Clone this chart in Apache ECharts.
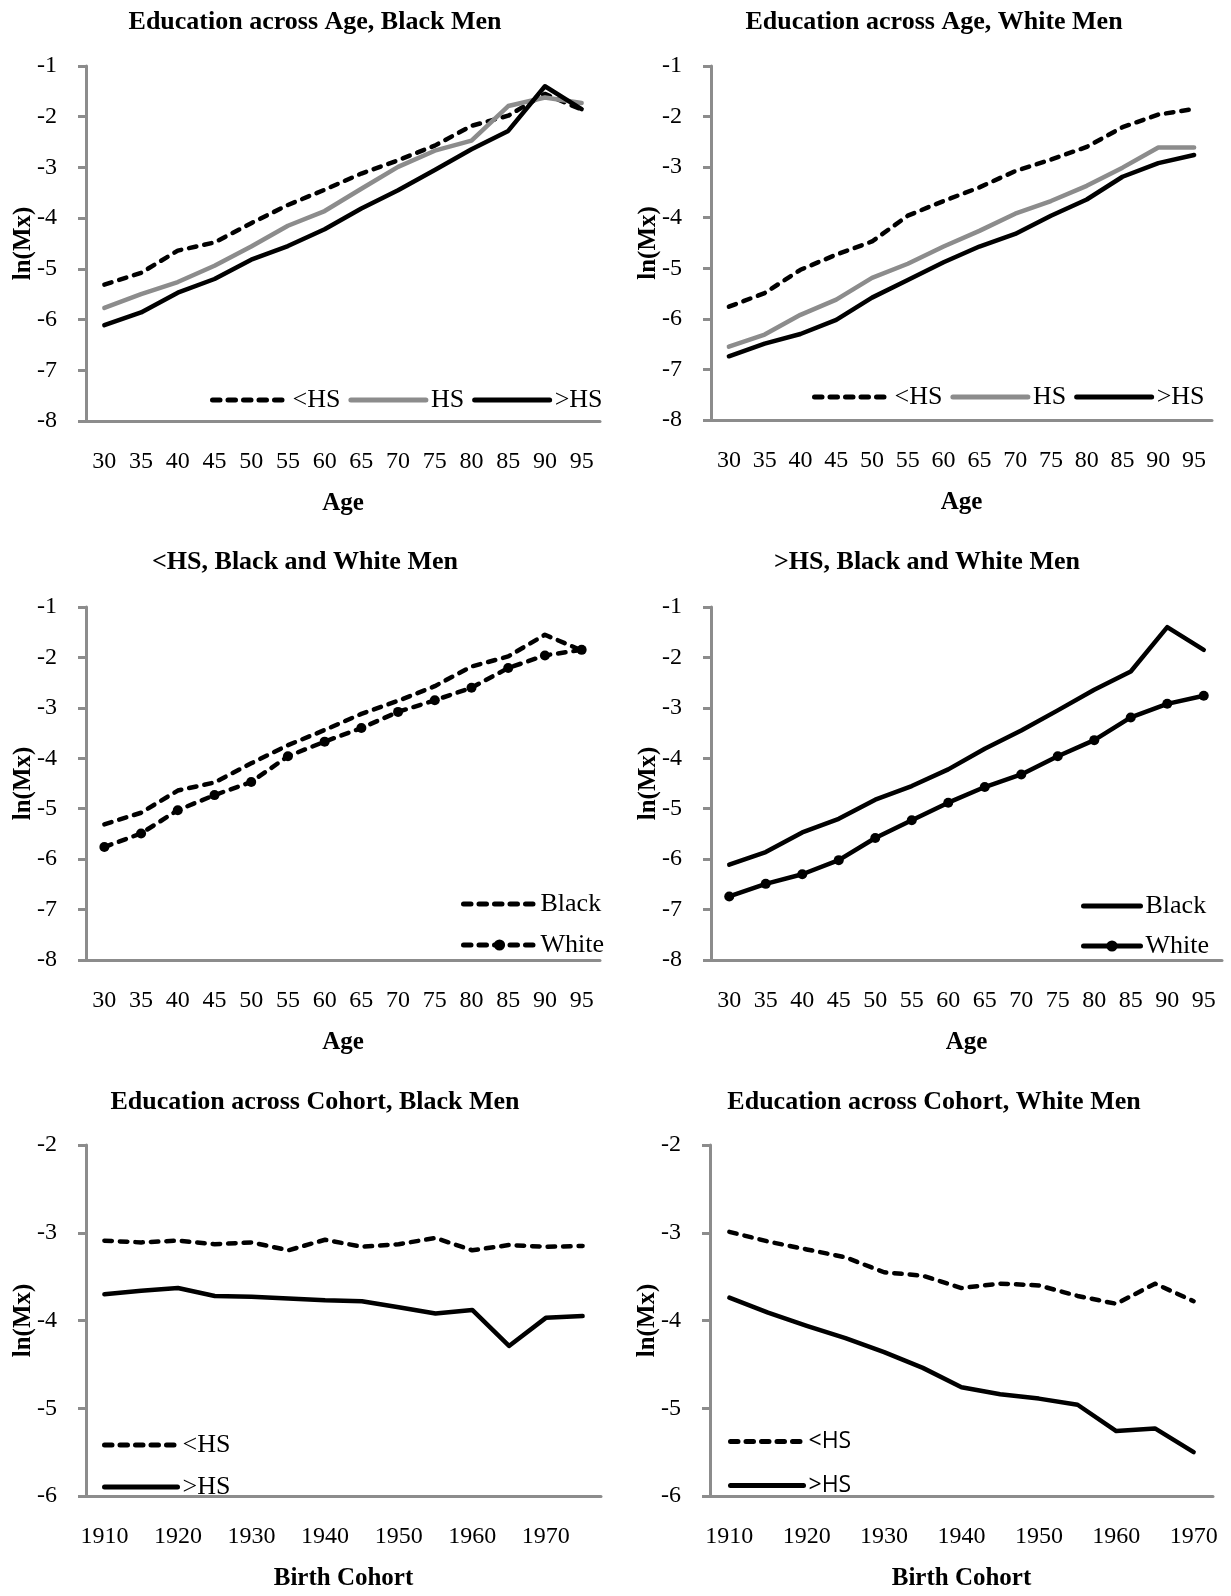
<!DOCTYPE html>
<html>
<head>
<meta charset="utf-8">
<script src="https://cdn.jsdelivr.net/npm/echarts@6/dist/echarts.min.js"></script>
<style>
body { margin: 0; background: #fff; }
.panel { position: absolute; }
</style>
</head>
<body>
<div id="p1" class="panel" style="left:0;top:0;width:615px;height:530px"></div>
<div id="p2" class="panel" style="left:615px;top:0;width:616px;height:530px"></div>
<div id="p3" class="panel" style="left:0;top:530px;width:615px;height:530px"></div>
<div id="p4" class="panel" style="left:615px;top:530px;width:616px;height:530px"></div>
<div id="p5" class="panel" style="left:0;top:1060px;width:615px;height:536px"></div>
<div id="p6" class="panel" style="left:615px;top:1060px;width:616px;height:536px"></div>
<script>
let ages = ['30', '35', '40', '45', '50', '55', '60', '65', '70', '75', '80', '85', '90', '95'];
let cohortsBlack = ['1910', '1915', '1920', '1925', '1930', '1935', '1940', '1945', '1950', '1955', '1960', '1965', '1970', '1975'];
let cohortsWhite = ['1910', '1915', '1920', '1925', '1930', '1935', '1940', '1945', '1950', '1955', '1960', '1965', '1970'];

// ln(Mx) by age
let blackLessHS = [-5.31, -5.08, -4.64, -4.48, -4.10, -3.74, -3.44, -3.12, -2.86, -2.57, -2.18, -1.98, -1.55, -1.86];
let blackHS = [-5.77, -5.50, -5.26, -4.94, -4.56, -4.15, -3.86, -3.42, -2.99, -2.67, -2.47, -1.79, -1.62, -1.73];
let blackMoreHS = [-6.11, -5.86, -5.47, -5.20, -4.82, -4.55, -4.22, -3.81, -3.45, -3.05, -2.64, -2.28, -1.40, -1.85];
let whiteLessHS = [-5.76, -5.49, -5.03, -4.73, -4.47, -3.96, -3.67, -3.40, -3.08, -2.85, -2.60, -2.21, -1.96, -1.85];
let whiteHS = [-6.55, -6.31, -5.92, -5.62, -5.19, -4.91, -4.57, -4.26, -3.92, -3.67, -3.37, -3.01, -2.61, -2.61];
let whiteMoreHS = [-6.74, -6.49, -6.30, -6.02, -5.58, -5.23, -4.88, -4.57, -4.32, -3.96, -3.64, -3.19, -2.92, -2.76];

// ln(Mx) by birth cohort
let cohortBlackLessHS = [-3.09, -3.11, -3.09, -3.13, -3.11, -3.20, -3.08, -3.16, -3.13, -3.06, -3.20, -3.14, -3.16, -3.15];
let cohortBlackMoreHS = [-3.70, -3.66, -3.63, -3.72, -3.73, -3.75, -3.77, -3.78, -3.85, -3.92, -3.88, -4.29, -3.97, -3.95];
let cohortWhiteLessHS = [-2.99, -3.10, -3.19, -3.28, -3.45, -3.49, -3.63, -3.58, -3.60, -3.72, -3.81, -3.58, -3.78];
let cohortWhiteMoreHS = [-3.74, -3.91, -4.06, -4.20, -4.36, -4.54, -4.76, -4.84, -4.89, -4.96, -5.26, -5.23, -5.50];

let serif = '"Liberation Serif", "Times New Roman", serif';
let axisGray = '#8c8c8c';
let dashed = [7.5, 8];

function lineSeries(name, data, color, type, withDots) {
    return {
        name: name,
        type: 'line',
        data: data,
        symbol: withDots ? 'circle' : 'none',
        symbolSize: 10,
        showSymbol: withDots,
        itemStyle: { color: color },
        lineStyle: { color: color, width: 4.5, type: type, cap: 'round', join: 'round' },
        emphasis: { disabled: true }
    };
}

function makeOption(p) {
    return {
        animation: false,
        title: {
            text: p.title,
            left: p.titleX,
            top: p.titleY,
            textAlign: 'center',
            textStyle: { fontFamily: serif, fontWeight: 'bold', fontSize: 26, color: '#000' }
        },
        grid: { left: p.grid[0], top: p.grid[1], width: p.grid[2], height: p.grid[3] },
        legend: Object.assign({
            padding: 0,
            itemHeight: 14,
            lineStyle: { width: 5 },
            textStyle: { fontFamily: p.legendFont || serif, fontSize: p.legendSize || 26, color: '#000' },
            // a line series always puts a circle in its legend icon; hide it where the series has no markers
            data: p.series.map(function (s) {
                return s.showSymbol ? { name: s.name } : { name: s.name, itemStyle: { opacity: 0 } };
            })
        }, p.legend),
        xAxis: {
            type: 'category',
            data: p.categories,
            boundaryGap: true,
            name: p.xName,
            nameLocation: 'middle',
            nameGap: p.xNameGap,
            nameMoveOverlap: false,
            nameTextStyle: { fontFamily: serif, fontWeight: 'bold', fontSize: 25, color: '#000' },
            axisLine: { lineStyle: { color: axisGray, width: 3 } },
            axisTick: { show: false },
            axisLabel: { interval: p.labelInterval, margin: 29, fontFamily: serif, fontSize: 24, color: '#000' }
        },
        yAxis: {
            type: 'value',
            min: p.yMin,
            max: p.yMax,
            interval: 1,
            name: 'ln(Mx)',
            nameLocation: 'middle',
            nameGap: 50,
            nameMoveOverlap: false,
            nameTextStyle: { fontFamily: serif, fontWeight: 'bold', fontSize: 25, color: '#000' },
            splitLine: { show: false },
            axisLine: { show: true, lineStyle: { color: axisGray, width: 3 } },
            axisTick: { show: true, length: 8, lineStyle: { color: axisGray, width: 3 } },
            axisLabel: { margin: 29, fontFamily: serif, fontSize: 24, color: '#000' }
        },
        series: p.series
    };
}

let panels = [
    {
        id: 'p1', title: 'Education across Age, Black Men', titleX: 310, titleY: 4,
        grid: [86, 66, 514, 355], categories: ages, labelInterval: 0,
        xName: 'Age', xNameGap: 70, yMin: -8, yMax: -1,
        legend: { orient: 'horizontal', left: 210, top: 387, itemWidth: 75, itemGap: 8 },
        series: [
            lineSeries('<HS', blackLessHS, '#000', dashed, false),
            lineSeries('HS', blackHS, '#8c8c8c', 'solid', false),
            lineSeries('>HS', blackMoreHS, '#000', 'solid', false)
        ]
    },
    {
        id: 'p2', title: 'Education across Age, White Men', titleX: 314, titleY: 4,
        grid: [96, 66, 501, 354], categories: ages, labelInterval: 0,
        xName: 'Age', xNameGap: 70, yMin: -8, yMax: -1,
        legend: { orient: 'horizontal', left: 197, top: 384, itemWidth: 75, itemGap: 8 },
        series: [
            lineSeries('<HS', whiteLessHS, '#000', dashed, false),
            lineSeries('HS', whiteHS, '#8c8c8c', 'solid', false),
            lineSeries('>HS', whiteMoreHS, '#000', 'solid', false)
        ]
    },
    {
        id: 'p3', title: '<HS, Black and White Men', titleX: 300, titleY: 14,
        grid: [86, 77, 514, 358], categories: ages, labelInterval: 0,
        xName: 'Age', xNameGap: 70, yMin: -8, yMax: -1,
        legend: { orient: 'vertical', left: 461, top: 361, itemWidth: 72, itemGap: 15 },
        series: [
            lineSeries('Black', blackLessHS, '#000', dashed, false),
            lineSeries('White', whiteLessHS, '#000', dashed, true)
        ]
    },
    {
        id: 'p4', title: '>HS, Black and White Men', titleX: 307, titleY: 14,
        grid: [96, 77, 511, 355], categories: ages, labelInterval: 0,
        xName: 'Age', xNameGap: 70, yMin: -8, yMax: -1,
        legend: { orient: 'vertical', left: 466, top: 363, itemWidth: 57, itemGap: 14 },
        series: [
            lineSeries('Black', blackMoreHS, '#000', 'solid', false),
            lineSeries('White', whiteMoreHS, '#000', 'solid', true)
        ]
    },
    {
        id: 'p5', title: 'Education across Cohort, Black Men', titleX: 310, titleY: 24,
        grid: [86, 85, 515, 362], categories: cohortsBlack, labelInterval: 1,
        xName: 'Birth Cohort', xNameGap: 70, yMin: -6, yMax: -2,
        legend: { orient: 'vertical', left: 102, top: 372, itemWidth: 73, itemGap: 16 },
        series: [
            lineSeries('<HS', cohortBlackLessHS, '#000', dashed, false),
            lineSeries('>HS', cohortBlackMoreHS, '#000', 'solid', false)
        ]
    },
    {
        id: 'p6', title: 'Education across Cohort, White Men', titleX: 314, titleY: 24,
        grid: [95, 85, 503, 362], categories: cohortsWhite, labelInterval: 1,
        xName: 'Birth Cohort', xNameGap: 70, yMin: -6, yMax: -2,
        legendFont: '"Open Sans", "Liberation Sans", sans-serif', legendSize: 23,
        legend: { orient: 'vertical', left: 113, top: 370, itemWidth: 73, itemGap: 21 },
        series: [
            lineSeries('<HS', cohortWhiteLessHS, '#000', dashed, false),
            lineSeries('>HS', cohortWhiteMoreHS, '#000', 'solid', false)
        ]
    }
];

for (let p of panels) {
    let chart = echarts.init(document.getElementById(p.id), null, { renderer: 'canvas' });
    chart.setOption(makeOption(p));
}
</script>
</body>
</html>
